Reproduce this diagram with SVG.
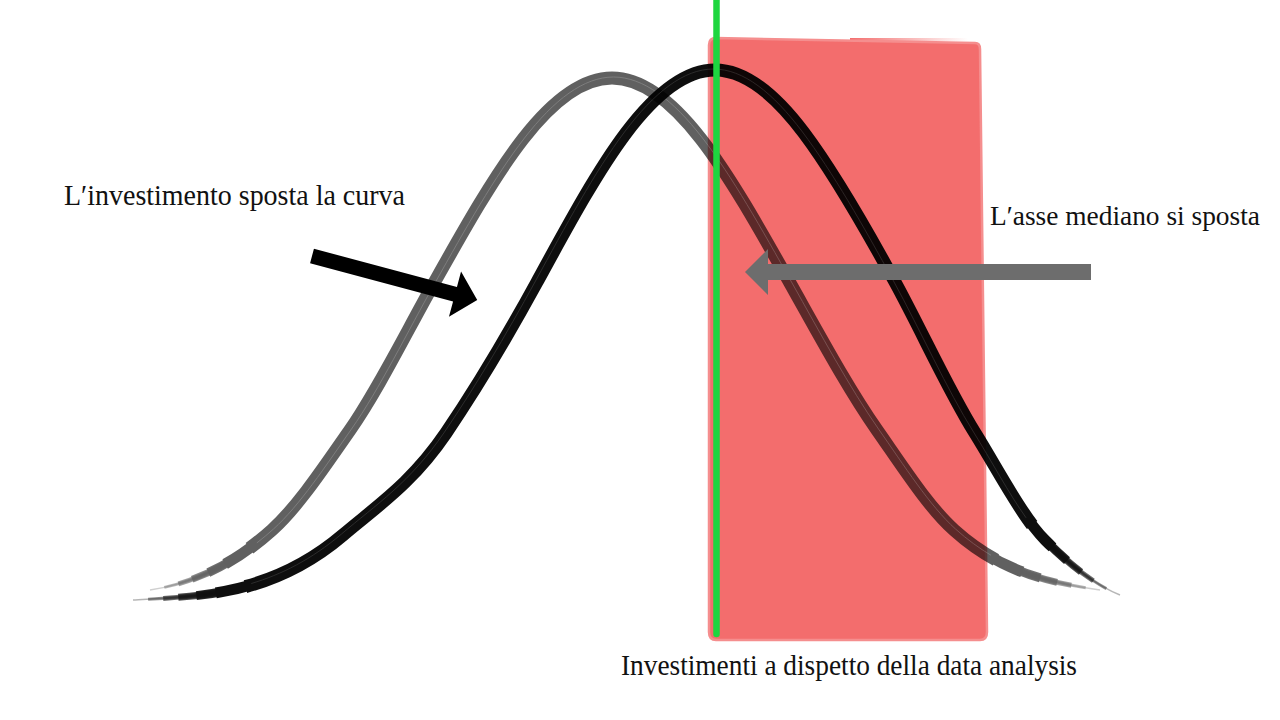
<svg xmlns="http://www.w3.org/2000/svg" xmlns:xlink="http://www.w3.org/1999/xlink" width="1280" height="720" viewBox="0 0 1280 720">
  <style>
    .lbl { font-family: "Liberation Serif", "DejaVu Serif", serif; font-size: 30px; fill: #111111; }
    .lbl-r { font-size: 28px; }
    .ink { fill: none; stroke: #000000; stroke-linecap: butt; stroke-linejoin: round; }
    .t1 { stroke-width: 1.5; opacity: 0.3; }
    .t2 { stroke-width: 3; stroke-dasharray: 0 1 98 100; opacity: 0.45; }
    .t3 { stroke-width: 5; stroke-dasharray: 0 2 96 100; opacity: 0.6; }
    .t4 { stroke-width: 7; stroke-dasharray: 0 3 94 100; opacity: 0.75; }
    .t5 { stroke-width: 9; stroke-dasharray: 0 4.2 91.6 100; opacity: 0.9; }
    .t6 { stroke-width: 11; stroke-dasharray: 0 5.5 89 100; }
    .t7 { stroke-width: 13; stroke-dasharray: 0 7.5 85 100; }
    .streak { fill: none; stroke: #ffffff; stroke-width: 1; stroke-dasharray: 0 8 84 100; }
  </style>
  <defs>
    <path id="curveGray" pathLength="100" d="M150,590 C190.7,583.9 231.3,566.6 272,530 C298,506.6 324,467.2 350,430 C378,390 406,332.8 434,283 C463.7,230.2 493.3,177.3 523,139 C552.7,100.7 582.3,78 612,78 C641.7,78 671.3,100.7 701,139 C730.7,177.3 760.3,230.2 790,283 C819,334.6 848,388.5 877,430 C902.7,466.7 928.3,506.9 954,530 C1002.7,573.8 1051.3,582.7 1100,590"/>
    <path id="curveBlack" pathLength="100" d="M133,600 C203,596.5 273,594.5 343,535 C377.3,505.8 411.7,483.5 446,433 C476.3,388.4 506.7,337.5 537,282 C566.7,227.7 596.3,172.5 626,133 C655.7,93.5 685.3,70 715,70 C744.7,70 774.3,93.5 804,133 C834.3,173.3 864.7,226.5 895,282 C921.7,330.8 948.3,390.3 975,433 C998.3,470.3 1021.7,516.7 1045,540 C1070,565 1095,585 1120,595"/>
    <linearGradient id="fadeTop" x1="0" y1="0" x2="1" y2="0">
      <stop offset="0" stop-color="#f36d6d" stop-opacity="1"/>
      <stop offset="1" stop-color="#f36d6d" stop-opacity="0"/>
    </linearGradient>
  </defs>

  <rect width="1280" height="720" fill="#ffffff"/>

  <g id="zone">
    <rect x="850" y="38" width="118" height="3" fill="url(#fadeTop)"/>
    <path d="M716,38 L975,43 Q980,43 980,49 L987,632 Q987,640 980,640 L716,640 Q709,640 709,632 L709,45 Q709,38 716,38 Z" fill="#f36d6d" stroke="#f58e8e" stroke-width="2.5"/>
  </g>

  <g id="curve-before" opacity="0.62">
    <use xlink:href="#curveGray" class="ink t1"/>
    <use xlink:href="#curveGray" class="ink t2"/>
    <use xlink:href="#curveGray" class="ink t3"/>
    <use xlink:href="#curveGray" class="ink t4"/>
    <use xlink:href="#curveGray" class="ink t5"/>
    <use xlink:href="#curveGray" class="ink t6"/>
    <use xlink:href="#curveGray" class="ink t7"/>
  </g>
  <g id="curve-before-streak" opacity="0.18">
    <use xlink:href="#curveGray" class="streak" transform="translate(1.5,-1)"/>
  </g>

  <g id="curve-after" opacity="0.94">
    <use xlink:href="#curveBlack" class="ink t1"/>
    <use xlink:href="#curveBlack" class="ink t2"/>
    <use xlink:href="#curveBlack" class="ink t3"/>
    <use xlink:href="#curveBlack" class="ink t4"/>
    <use xlink:href="#curveBlack" class="ink t5"/>
    <use xlink:href="#curveBlack" class="ink t6"/>
    <use xlink:href="#curveBlack" class="ink t7"/>
  </g>
  <g id="curve-after-streak" opacity="0.12">
    <use xlink:href="#curveBlack" class="streak" transform="translate(-1.5,-1)"/>
  </g>

  <g id="median-axis">
    <line x1="716.5" y1="-5" x2="716.5" y2="634" stroke="#1ed63f" stroke-width="6.5" stroke-linecap="round"/>
  </g>

  <g id="connectors">
    <polygon id="arrow-shift" fill="#000000" points="0,-7.5 148,-7.5 148,-23.5 171,0 148,23.5 148,7.5 0,7.5" transform="translate(312,256) rotate(14.93)"/>
    <polygon id="arrow-axis" fill="#6d6d6d" points="1091,264 768,264 768,249 745,272 768,295 768,280 1091,280"/>
  </g>

  <g id="label-shift">
    <text class="lbl" x="64" y="205" textLength="341" lengthAdjust="spacingAndGlyphs">L′investimento sposta la curva</text>
  </g>
  <g id="label-axis">
    <text class="lbl lbl-r" x="990" y="225" textLength="270" lengthAdjust="spacingAndGlyphs">L′asse mediano si sposta</text>
  </g>
  <g id="label-zone">
    <text class="lbl" x="621" y="675" textLength="456" lengthAdjust="spacingAndGlyphs">Investimenti a dispetto della data analysis</text>
  </g>
</svg>
